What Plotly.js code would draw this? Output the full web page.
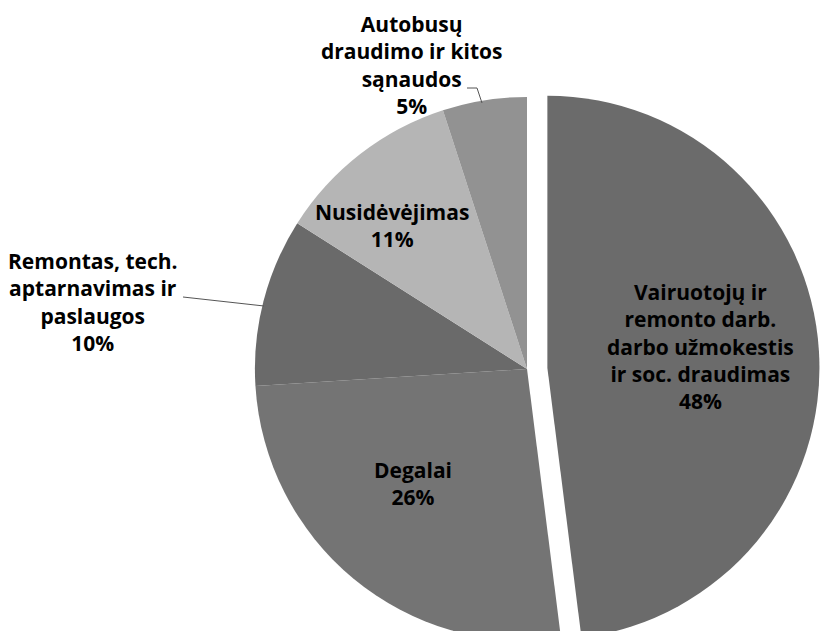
<!DOCTYPE html>
<html>
<head>
<meta charset="utf-8">
<script src="https://cdn.plot.ly/plotly-3.0.1.min.js"></script>
<style>
  html, body { margin: 0; padding: 0; background: #fff; overflow: hidden; }
  #wrap { width: 828px; height: 631px; overflow: hidden; position: relative; }
  #chart { width: 828px; height: 700px; }
</style>
</head>
<body>
<div id="wrap"><div id="chart"></div></div>
<script>
// Data
const categories = [
  "Vairuotojų ir<br>remonto darb.<br>darbo užmokestis<br>ir soc. draudimas",
  "Degalai",
  "Remontas, tech.<br>aptarnavimas ir<br>paslaugos",
  "Nusidėvėjimas",
  "Autobusų<br>draudimo ir kitos<br>sąnaudos"
];
const shares = [48, 26, 10, 11, 5];
const sliceColors = ["#6b6b6b", "#747474", "#6a6a6a", "#b5b5b5", "#929292"];
const pulls = [0.075, 0, 0, 0, 0];

const W = 828, H = 700;
const px = v => v / W;
const py = v => 1 - v / H;

const FONT = "Open Sans, Noto Sans, sans-serif";
const FS = 21;

const trace = {
  type: "pie",
  labels: categories,
  values: shares,
  sort: false,
  direction: "clockwise",
  rotation: 0,
  pull: pulls,
  marker: { colors: sliceColors, line: { width: 0 } },
  textinfo: "none",
  hoverinfo: "none",
  showlegend: false,
  domain: { x: [234.5 / W, 819.5 / W], y: [0.055, 0.8907] }
};

// label placement (text block centre x, block top y) in pixels — layout only
const labelPlace = [[700, 276], [413, 454], [93, 245], [392, 196], [411, 8]];

const annotations = categories.map((c, i) => ({
  text: c + "<br>" + shares[i] + "%",
  xref: "paper", yref: "paper",
  x: px(labelPlace[i][0]), y: py(labelPlace[i][1]),
  xanchor: "center", yanchor: "top",
  showarrow: false, align: "center",
  font: { family: FONT, size: FS, color: "#000", weight: 700 }
}));

const layout = {
  width: W,
  height: H,
  margin: { l: 0, r: 0, t: 0, b: 0 },
  paper_bgcolor: "#ffffff",
  plot_bgcolor: "#ffffff",
  showlegend: false,
  annotations: annotations,
  shapes: [
    {
      type: "path", xref: "paper", yref: "paper",
      path: `M ${px(467)} ${py(88)} L ${px(477)} ${py(88)} L ${px(482)} ${py(103)}`,
      line: { color: "#555", width: 1 }
    },
    {
      type: "path", xref: "paper", yref: "paper",
      path: `M ${px(183)} ${py(297)} L ${px(264)} ${py(306)}`,
      line: { color: "#555", width: 1 }
    }
  ]
};

Plotly.newPlot("chart", [trace], layout, { displayModeBar: false, staticPlot: true });
</script>
</body>
</html>
